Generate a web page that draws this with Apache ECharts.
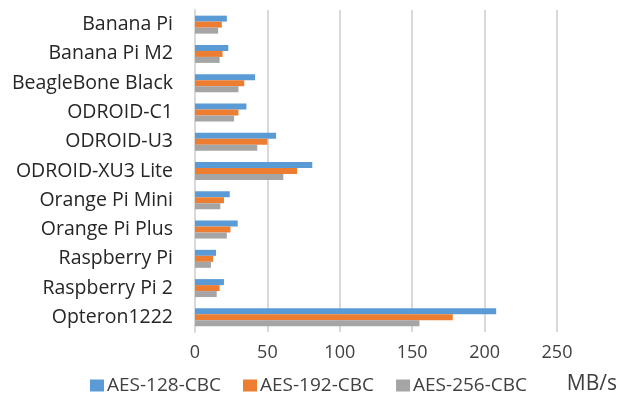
<!DOCTYPE html>
<html>
<head>
<meta charset="utf-8">
<script src="https://cdn.jsdelivr.net/npm/echarts@6/dist/echarts.min.js"></script>
<style>
  html, body { margin: 0; padding: 0; background: #fff; }
  #chart { width: 618px; height: 394px; }
</style>
</head>
<body>
<div id="chart"></div>
<script>
// boards, top to bottom
const boards = ['Banana Pi', 'Banana Pi M2', 'BeagleBone Black', 'ODROID-C1', 'ODROID-U3',
  'ODROID-XU3 Lite', 'Orange Pi Mini', 'Orange Pi Plus', 'Raspberry Pi', 'Raspberry Pi 2', 'Opteron1222'];
// MB/s
const aes128 = [22, 23, 41.5, 35.5, 56, 81, 24, 29.5, 14.5, 20, 208];
const aes192 = [18.5, 19, 34, 30, 50, 70.5, 20, 24.5, 12.5, 17, 178];
const aes256 = [16, 17, 30, 27, 43, 61, 17.5, 22, 11, 15, 155];
const xTicks = [0, 250, 50];

const font = 'Open Sans';
const chart = echarts.init(document.getElementById('chart'));

const mk = (name, data, color) => ({
  name: name,
  type: 'bar',
  data: data,
  barWidth: 6,
  barGap: '0%',
  itemStyle: { color: color },
  emphasis: { disabled: true }
});

chart.setOption({
  animation: false,
  textStyle: { fontFamily: font },
  grid: { left: 195, right: 61, top: 10, height: 322, containLabel: false },
  title: {
    text: 'MB/s',
    right: -4,
    top: 369,
    textStyle: { fontFamily: font, fontSize: 21, fontWeight: 'normal', color: '#404040' }
  },
  legend: {
    left: 85,
    top: 371,
    itemWidth: 14,
    itemHeight: 12,
    itemGap: 22,
    icon: 'rect',
    textStyle: { fontFamily: font, fontSize: 19, color: '#404040', padding: [0, 0, 0, -2] },
    data: ['AES-128-CBC', 'AES-192-CBC', 'AES-256-CBC']
  },
  xAxis: {
    type: 'value',
    min: xTicks[0],
    max: xTicks[1],
    interval: xTicks[2],
    axisLine: { show: false },
    axisTick: { show: false },
    splitLine: { lineStyle: { color: '#d9d9d9', width: 2 } },
    axisLabel: { fontFamily: font, fontSize: 18, color: '#404040', margin: 12 }
  },
  yAxis: {
    type: 'category',
    inverse: true,
    data: boards,
    axisLine: { lineStyle: { color: '#d9d9d9', width: 2 } },
    axisTick: { show: false },
    axisLabel: { fontFamily: font, fontSize: 19.5, color: '#262626', margin: 22 }
  },
  series: [
    mk('AES-128-CBC', aes128, '#5b9bd5'),
    mk('AES-192-CBC', aes192, '#ed7d31'),
    mk('AES-256-CBC', aes256, '#a5a5a5')
  ]
});
</script>
</body>
</html>
